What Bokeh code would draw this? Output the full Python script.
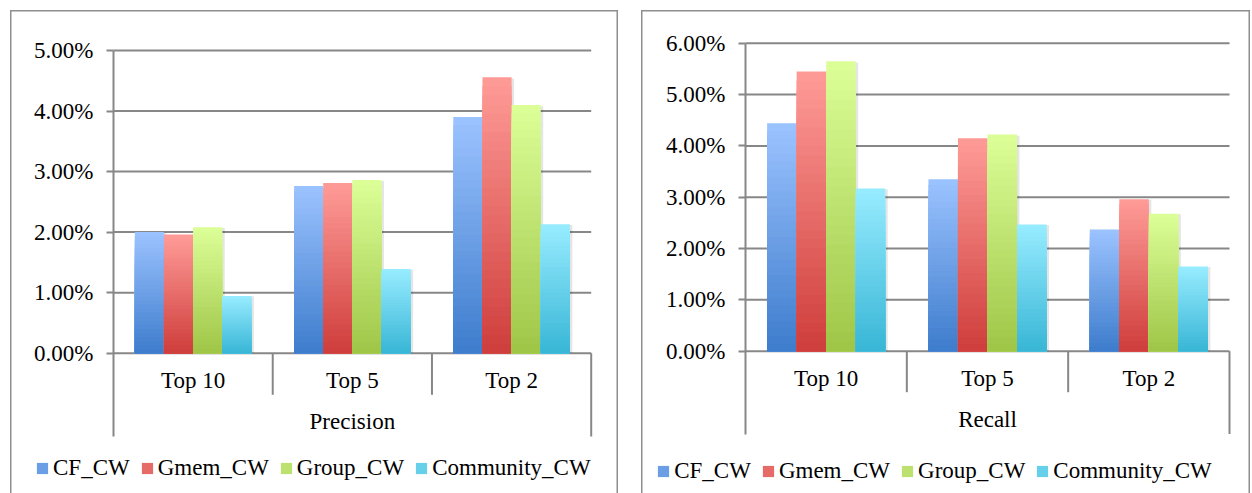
from bokeh.plotting import figure
from bokeh.layouts import row
from bokeh.models import Range1d, FixedTicker, NumeralTickFormatter, Legend, LegendItem
from bokeh.core.properties import value
from bokeh.embed import file_html
from bokeh.resources import INLINE

# ---------------- data ----------------
categories = ["Top 10", "Top 5", "Top 2"]
series_names = ["CF_CW", "Gmem_CW", "Group_CW", "Community_CW"]

# Precision (%)
precision_cf = [2.00, 2.76, 3.90]
precision_gmem = [1.96, 2.81, 4.56]
precision_group = [2.08, 2.86, 4.10]
precision_community = [0.945, 1.39, 2.13]

# Recall (%)
recall_cf = [4.44, 3.35, 2.37]
recall_gmem = [5.45, 4.15, 2.96]
recall_group = [5.65, 4.22, 2.68]
recall_community = [3.17, 2.47, 1.65]

precision_ticks = [0, 1, 2, 3, 4, 5]
recall_ticks = [0, 1, 2, 3, 4, 5, 6]

# ---------------- style ----------------
TOP_COLORS = ["#9cc3ff", "#ff9c98", "#dcff98", "#98ecff"]
BOTTOM_COLORS = ["#3d7ccc", "#ce3d3b", "#9fc547", "#38b6d6"]
AXIS_GRAY = "#878787"
BORDER_GRAY = "#8e8e8e"
FONT = "Liberation Serif"
FSIZE = "23px"
N_LAYERS = 30
BAR_W = 0.183


def hex_to_rgb(h):
    h = h.lstrip("#")
    return tuple(int(h[i:i + 2], 16) for i in (0, 2, 4))


def lerp_color(c0, c1, t):
    a, b = hex_to_rgb(c0), hex_to_rgb(c1)
    return "#%02x%02x%02x" % tuple(int(round(a[i] + (b[i] - a[i]) * t)) for i in range(3))


def make_chart(series_values, group_label, ticks, lay):
    n = len(categories)
    zero_px, per_pct = lay["zero_px"], lay["per_pct"]
    x0_px = lay["x0_px"]
    per_cat = (lay["x3_px"] - x0_px) / n

    def yv(page_y):  # page pixel -> data value (fraction)
        return (zero_px - page_y) / per_pct / 100.0

    def xv(page_x):
        return (page_x - x0_px) / per_cat

    left_px, top_px = lay["left_px"], lay["top_px"]
    W, H = lay["W"], lay["H"]
    p = figure(
        width=W, height=H,
        x_range=Range1d(xv(left_px), xv(left_px + W)),
        y_range=Range1d(yv(top_px + H), yv(top_px)),
        output_backend="svg", toolbar_location=None,
        x_axis_location=None, y_axis_location="left",
        min_border_left=0, min_border_right=0, min_border_top=0, min_border_bottom=0,
    )
    p.outline_line_color = None
    p.border_fill_color = None
    p.background_fill_color = None
    p.xgrid.visible = False
    p.ygrid.visible = False

    tick_vals = [t / 100.0 for t in ticks]
    ticker = FixedTicker(ticks=tick_vals, minor_ticks=[])

    # horizontal gridlines across the plot area
    p.segment(x0=[0] * len(tick_vals), y0=tick_vals, x1=[n] * len(tick_vals), y1=tick_vals,
              line_color=AXIS_GRAY, line_width=2)

    ax = p.yaxis[0]
    ax.fixed_location = 0
    ax.ticker = ticker
    ax.bounds = (yv(lay["box_bottom_px"]), tick_vals[-1])
    ax.formatter = NumeralTickFormatter(format="0.00%")
    ax.axis_line_color = AXIS_GRAY
    ax.axis_line_width = 2
    ax.major_tick_line_color = AXIS_GRAY
    ax.major_tick_line_width = 2
    ax.major_tick_out = 7
    ax.major_tick_in = 0
    ax.minor_tick_line_color = None
    ax.major_label_text_font = FONT
    ax.major_label_text_font_size = FSIZE
    ax.major_label_text_color = "#000000"
    ax.major_label_standoff = 13

    # category separators and right edge of category box
    seps = list(range(1, n))
    p.segment(x0=seps, y0=[0] * len(seps), x1=seps, y1=[yv(lay["sep_bottom_px"])] * len(seps),
              line_color=AXIS_GRAY, line_width=2)
    p.segment(x0=[n], y0=[0], x1=[n], y1=[yv(lay["box_bottom_px"])],
              line_color=AXIS_GRAY, line_width=2)

    # bars with vertical gradient (stacked full-height layers, light top -> dark bottom)
    shadow_dx = 2.5 / per_cat
    legend_items = []
    for s, vals in enumerate(series_values):
        xs = [i + 0.5 + (s - 1.5) * BAR_W for i in range(n)]
        tops = [v / 100.0 for v in vals]
        p.vbar(x=[x + shadow_dx for x in xs], width=BAR_W, bottom=0,
               top=[t * 0.995 for t in tops], fill_color="#000000", fill_alpha=0.10,
               line_color=None)
    for s, vals in enumerate(series_values):
        xs = [i + 0.5 + (s - 1.5) * BAR_W for i in range(n)]
        tops = [v / 100.0 for v in vals]
        mid_r = None
        for k in range(N_LAYERS):
            frac = 1.0 - k / N_LAYERS
            tcol = frac - 0.5 / N_LAYERS
            col = lerp_color(BOTTOM_COLORS[s], TOP_COLORS[s], tcol)
            r = p.vbar(x=xs, width=BAR_W, bottom=0, top=[t * frac for t in tops],
                       fill_color=col, line_color=None)
            if k == N_LAYERS // 2:
                mid_r = r
        legend_items.append(LegendItem(label=series_names[s], renderers=[mid_r]))

    # category labels + group label
    p.text(x=[i + 0.5 for i in range(n)], y=[yv(lay["cat_base_px"])] * n, text=categories,
           text_font=value(FONT), text_font_size=FSIZE, text_color="#000000",
           text_align="center", text_baseline="alphabetic")
    p.text(x=[n / 2.0], y=[yv(lay["group_base_px"])], text=[group_label],
           text_font=value(FONT), text_font_size=FSIZE, text_color="#000000",
           text_align="center", text_baseline="alphabetic")

    legend = Legend(items=legend_items, orientation="horizontal",
                    location=(lay["leg_left_px"] - left_px, top_px + H - lay["leg_bottom_px"]),
                    padding=0, margin=0, spacing=10, label_standoff=4,
                    glyph_width=14, glyph_height=14, label_height=26,
                    label_text_font=FONT, label_text_font_size=FSIZE,
                    label_text_color="#000000",
                    background_fill_alpha=0, border_line_alpha=0)
    p.add_layout(legend, "center")

    p.styles = {"box-shadow": "inset 1.5px 1.5px 0 0 %s, inset -1.5px 0 0 0 %s" % (BORDER_GRAY, BORDER_GRAY)}
    p.margin = lay["margin"]
    return p


left_layout = dict(
    W=608, H=483, margin=(10, 0, 0, 10), left_px=10, top_px=10,
    x0_px=113, x3_px=590.7,
    zero_px=352.7, per_pct=60.54,
    box_bottom_px=436, sep_bottom_px=394.3,
    cat_base_px=380.0, group_base_px=420.8,
    leg_left_px=35, leg_bottom_px=480.7,
)
right_layout = dict(
    W=609, H=483, margin=(10, 0, 0, 23), left_px=641, top_px=10,
    x0_px=745, x3_px=1229,
    zero_px=350.7, per_pct=51.33,
    box_bottom_px=433.5, sep_bottom_px=391.7,
    cat_base_px=377.8, group_base_px=418.7,
    leg_left_px=656.2, leg_bottom_px=484.3,
)

p1 = make_chart([precision_cf, precision_gmem, precision_group, precision_community],
                "Precision", precision_ticks, left_layout)
p2 = make_chart([recall_cf, recall_gmem, recall_group, recall_community],
                "Recall", recall_ticks, right_layout)

layout = row(p1, p2)
open("out.html", "w").write(file_html(layout, INLINE))
